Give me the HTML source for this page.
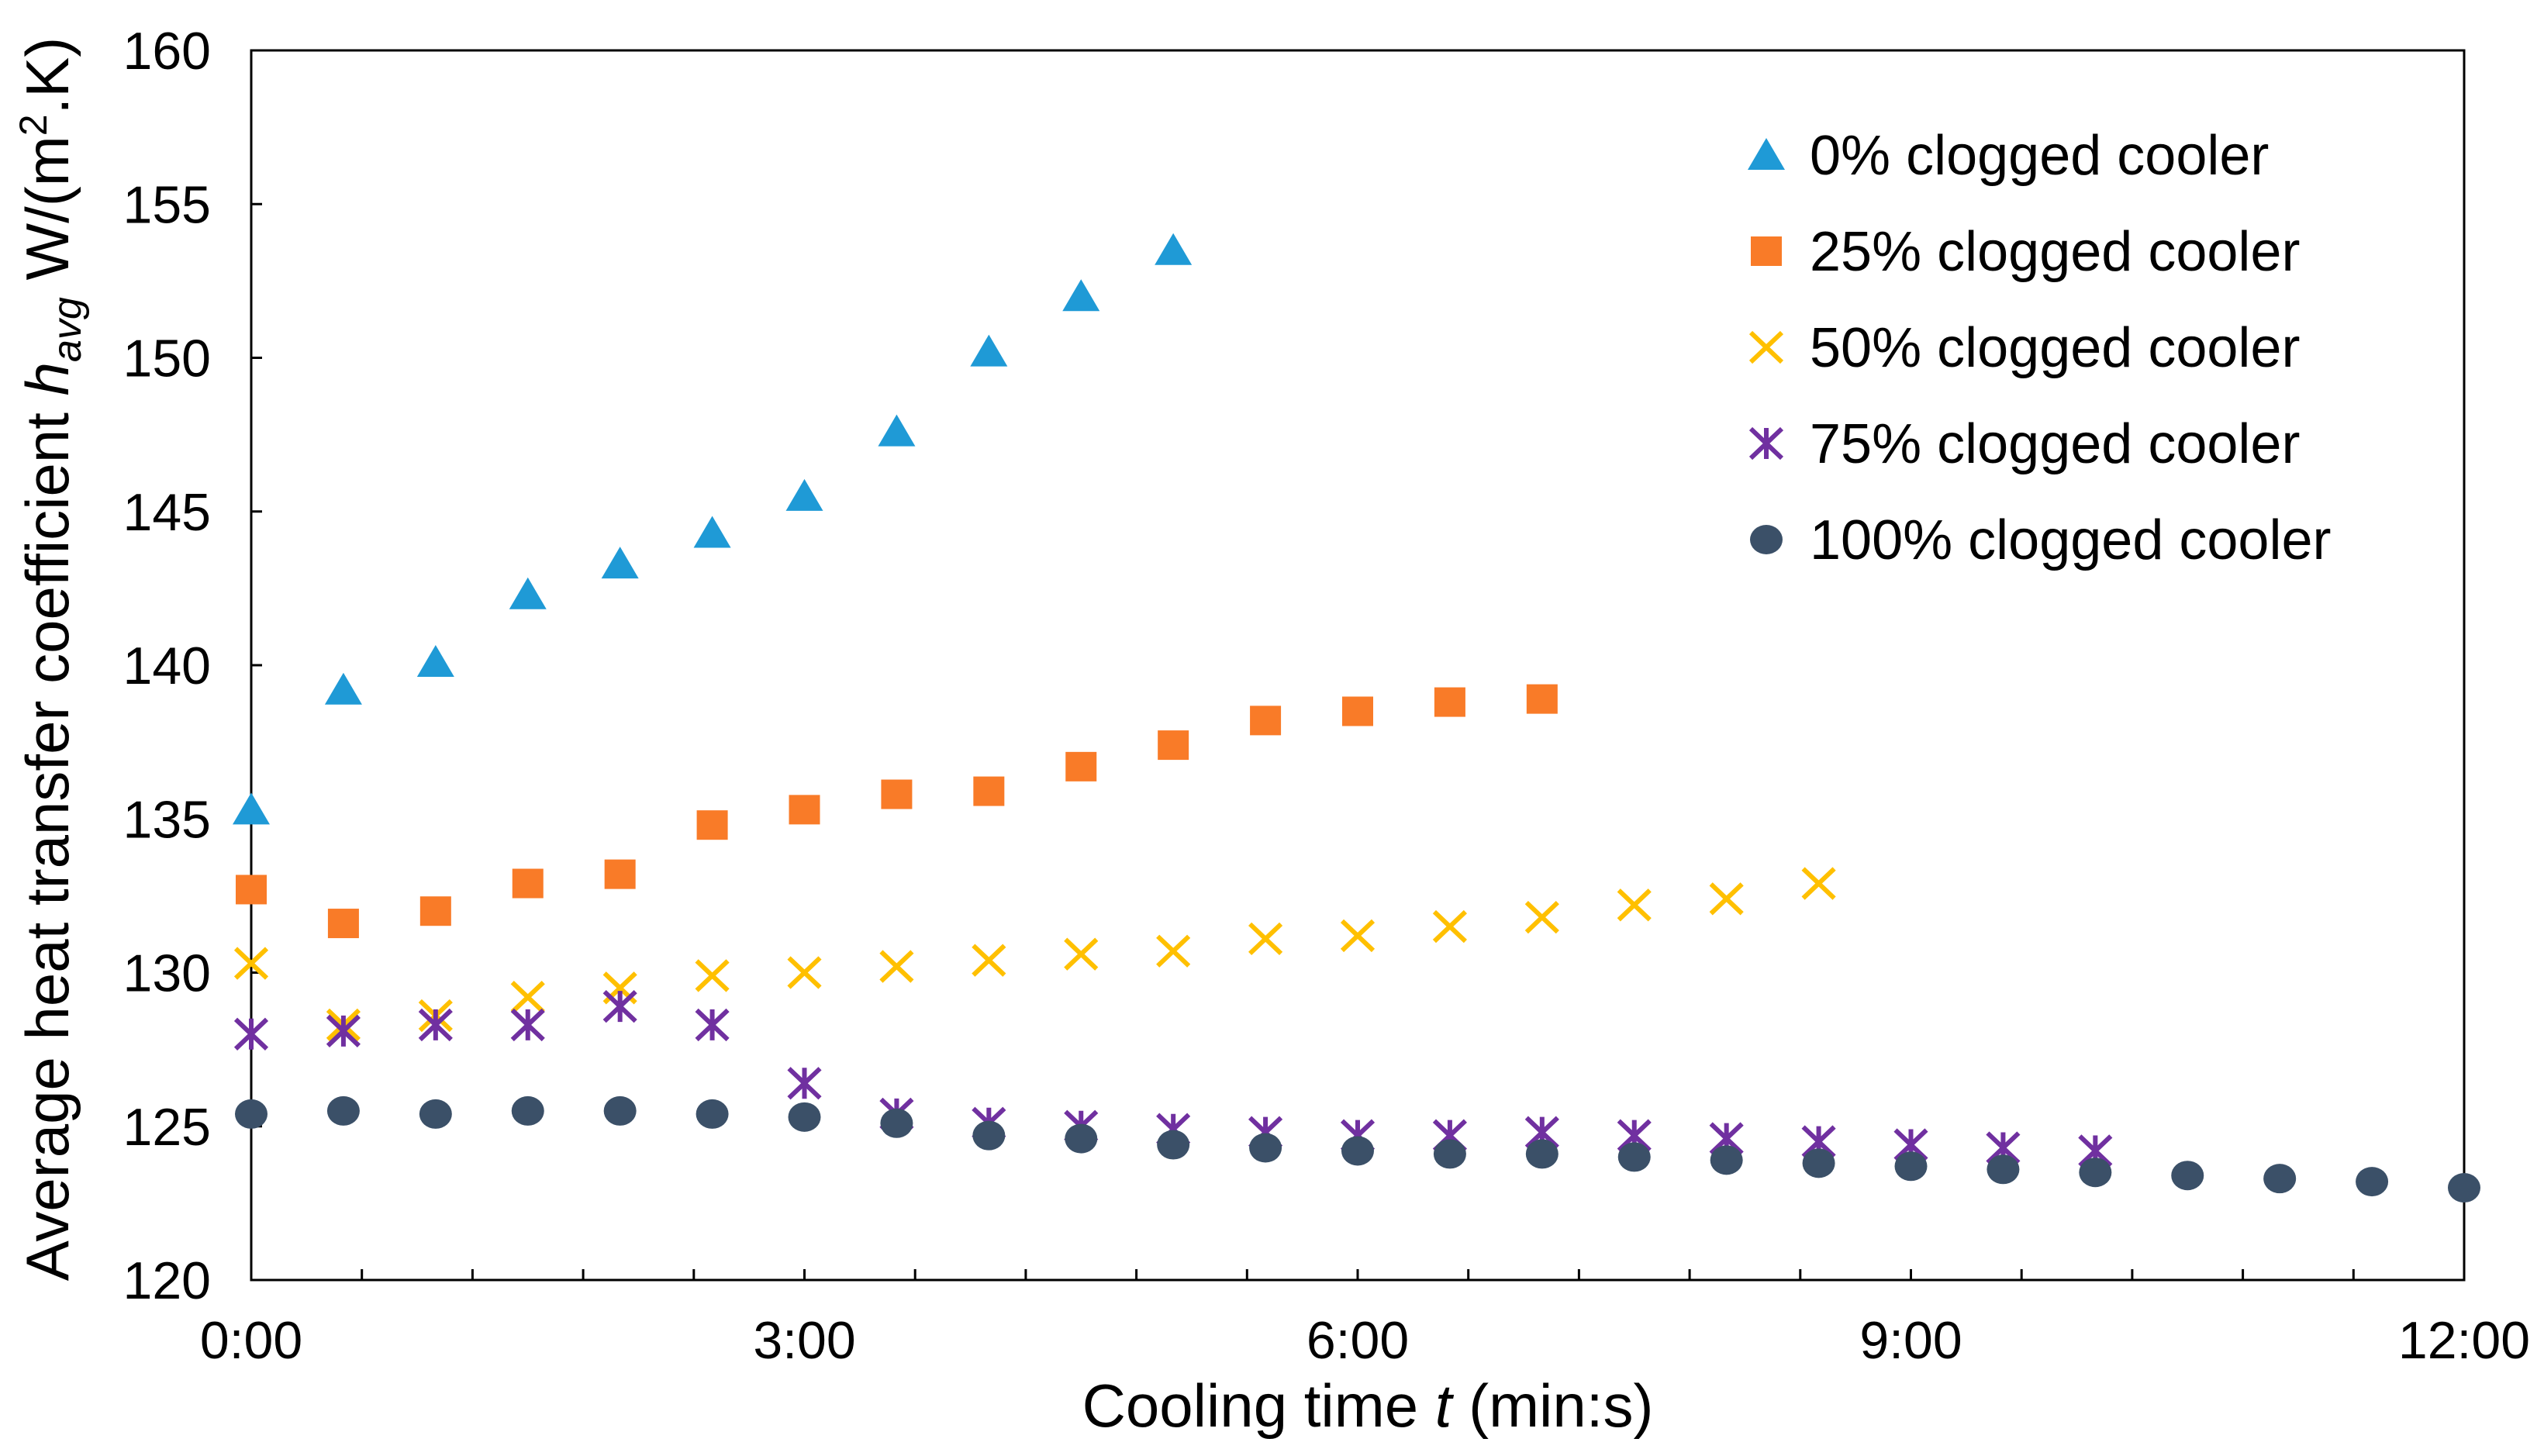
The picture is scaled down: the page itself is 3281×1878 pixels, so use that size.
<!DOCTYPE html>
<html><head><meta charset="utf-8"><style>
html,body{margin:0;padding:0;background:#fff}
svg{display:block;font-family:"Liberation Sans",Arial,sans-serif}
</style></head><body>
<svg id="chart" width="3281" height="1878" viewBox="0 0 3281 1878" xmlns="http://www.w3.org/2000/svg">
<rect x="0" y="0" width="3281" height="1878" fill="#fff"/>
<g id="plot"></g>
<text transform="translate(88,850) rotate(-90)" text-anchor="middle" font-size="78" fill="#000">Average heat transfer coefficient <tspan font-style="italic">h</tspan><tspan font-style="italic" font-size="52" dy="16">avg</tspan><tspan dy="-16"> W/(m</tspan><tspan font-size="50" dy="-28">2</tspan><tspan dy="28">.K)</tspan></text>
<text x="1764" y="1840" text-anchor="middle" font-size="78" fill="#000">Cooling time <tspan font-style="italic">t</tspan> (min:s)</text>
</svg>
<script>
const times0=[0,0.5,1,1.5,2,2.5,3,3.5,4,4.5,5];
const s0=[135.3,139.2,140.1,142.3,143.3,144.3,145.5,147.6,150.2,152.0,153.5];
const s25=[132.7,131.6,132.0,132.9,133.2,134.8,135.3,135.8,135.9,136.7,137.4,138.2,138.5,138.8,138.9];
const s50=[130.3,128.3,128.6,129.2,129.5,129.9,130.0,130.2,130.4,130.6,130.7,131.1,131.2,131.5,131.8,132.2,132.4,132.9];
const s75=[128.0,128.1,128.3,128.3,128.9,128.3,126.4,125.4,125.1,125.0,124.9,124.8,124.7,124.7,124.8,124.7,124.6,124.5,124.4,124.3,124.2];
const s100=[125.4,125.5,125.4,125.5,125.5,125.4,125.3,125.1,124.7,124.6,124.4,124.3,124.2,124.1,124.1,124.0,123.9,123.8,123.7,123.6,123.5,123.4,123.3,123.2,123.0];
const yTicks=[120,125,130,135,140,145,150,155,160];
const xTickLabels=["0:00","3:00","6:00","9:00","12:00"];
const xLabelVals=[0,3,6,9,12];
const legendLabels=["0% clogged cooler","25% clogged cooler","50% clogged cooler","75% clogged cooler","100% clogged cooler"];

const L=324,R=3178,T=65,B=1651,X0=0,X1=12,Y0=120,Y1=160;
const sx=v=>L+(v-X0)/(X1-X0)*(R-L);
const sy=v=>B-(v-Y0)/(Y1-Y0)*(B-T);
const NS="http://www.w3.org/2000/svg";
const plot=document.getElementById('plot');
function mk(tag,attrs,parent){const e=document.createElementNS(NS,tag);for(const k in attrs)e.setAttribute(k,attrs[k]);(parent||plot).appendChild(e);return e;}

let fr=mk('rect',{x:L,y:T,width:R-L,height:B-T,fill:'none',stroke:'#000','stroke-width':3});


yTicks.forEach(v=>{
 const t=mk('line',{x1:L,x2:L+14,y1:sy(v),y2:sy(v),stroke:'#000','stroke-width':3});
 
 
 const lb=mk('text',{x:272,y:sy(v)+24,'text-anchor':'end','font-size':68,fill:'#000'});
 lb.textContent=v;
 
 
});
for(let i=1;i<20;i++){
 const v=i*0.6;
 const t=mk('line',{x1:sx(v),x2:sx(v),y1:B,y2:B-14,stroke:'#000','stroke-width':3});
 
 
}
xLabelVals.forEach((v,i)=>{
 const lb=mk('text',{x:sx(v),y:1752,'text-anchor':'middle','font-size':68,fill:'#000'});
 lb.textContent=xTickLabels[i];
 
 
});

function marker(type,cx,cy,g){
 if(type==='tri') return mk('polygon',{points:`${cx},${cy-22} ${cx-24},${cy+19} ${cx+24},${cy+19}`,fill:'#1f9ad6'},g);
 if(type==='sq') return mk('rect',{x:cx-20,y:cy-19,width:40,height:38,fill:'#f97b28'},g);
 if(type==='x') return mk('path',{d:`M${cx-20},${cy-19}L${cx+20},${cy+19}M${cx-20},${cy+19}L${cx+20},${cy-19}`,stroke:'#ffc000','stroke-width':6,fill:'none'},g);
 if(type==='star') return mk('path',{d:`M${cx-20},${cy-19}L${cx+20},${cy+19}M${cx-20},${cy+19}L${cx+20},${cy-19}M${cx},${cy-20}L${cx},${cy+20}`,stroke:'#7030a0','stroke-width':6,fill:'none'},g);
 return mk('ellipse',{cx:cx,cy:cy,rx:21,ry:19,fill:'#3b5068'},g);
}
const series=[[s0,'tri','series-0pct'],[s25,'sq','series-25pct'],[s50,'x','series-50pct'],[s75,'star','series-75pct'],[s100,'dot','series-100pct']];
series.forEach(([arr,type,name])=>{
 const g=mk('g',{});
 
 
 arr.forEach((v,i)=>{
  const m=marker(type,sx(i*0.5),sy(v),g);
  
  
 });
});
const lg=mk('g',{});


legendLabels.forEach((s,i)=>{
 const y=200+i*124;
 const e=mk('g',{},lg);
 
 
 const m=marker(series[i][1],2278,y,e);
 
 
 const t=mk('text',{x:2334,y:y+25,'font-size':72,fill:'#000'},e);
 t.textContent=s;
 
 
});
</script>
</body></html>
